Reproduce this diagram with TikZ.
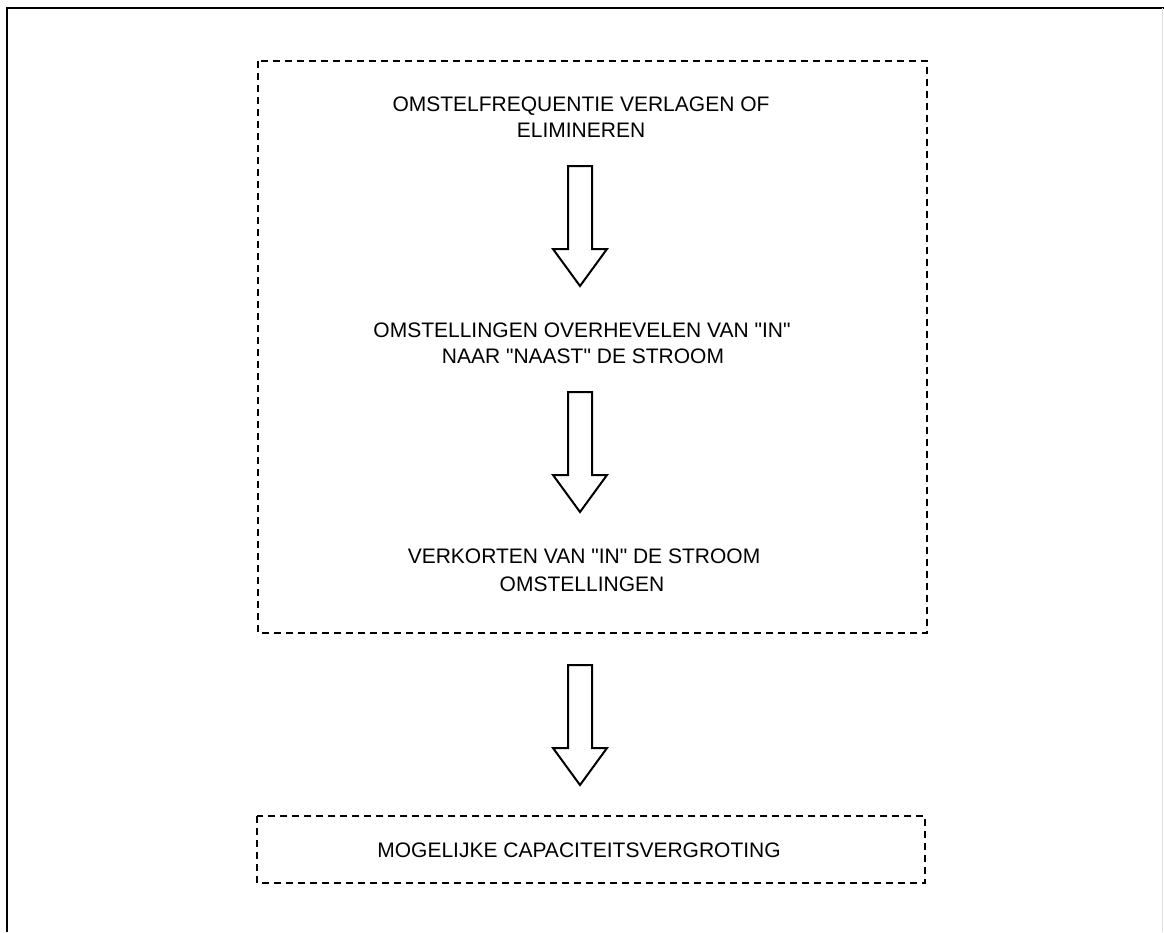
\documentclass[tikz,border=0pt]{standalone}
\usepackage{fontspec}
\setmainfont{Liberation Sans}[Ligatures=TeXOff]
\begin{document}
\begin{tikzpicture}[x=1pt,y=-1pt,
  frame/.style={line width=2pt},
  dashbox/.style={line width=1.8pt, dash pattern=on 7pt off 5pt},
  label/.style={font=\fontsize{21}{26}\selectfont, anchor=base, inner sep=0pt},
  arrowline/.style={line width=2pt, line join=miter},
  pics/blockarrow/.style={code={
    \draw[arrowline] (-12,0) -- (12,0) -- (12,83) -- (27,83) -- (0,120)
      -- (-27,83) -- (-12,83) -- cycle;}}]
\useasboundingbox (0,0) rectangle (1164,932);

% outer frame
\draw[frame] (7,932) -- (7,8) -- (1164,8);
\draw[black!12, line width=1pt] (1162,8) -- (1162,932);

% dashed group and result box
\draw[dashbox] (258,61) rectangle (927,633);
\draw[dashbox] (257,816) rectangle (925,883);

% step texts
\node[label] (s1a) at (581,111) {OMSTELFREQUENTIE VERLAGEN OF};
\node[label] (s1b) at (581,137) {ELIMINEREN};
\node[label] (s2a) at (582,337) {OMSTELLINGEN OVERHEVELEN VAN "IN"};
\node[label] (s2b) at (583,363) {NAAR "NAAST" DE STROOM};
\node[label] (s3a) at (584,563) {VERKORTEN VAN "IN" DE STROOM};
\node[label] (s3b) at (582,591) {OMSTELLINGEN};
\node[label] (res) at (579,857) {MOGELIJKE CAPACITEITSVERGROTING};

% block arrows between the steps
\pic at (580,166) {blockarrow};
\pic at (580,392) {blockarrow};
\pic at (580,665) {blockarrow};
\end{tikzpicture}
\end{document}
